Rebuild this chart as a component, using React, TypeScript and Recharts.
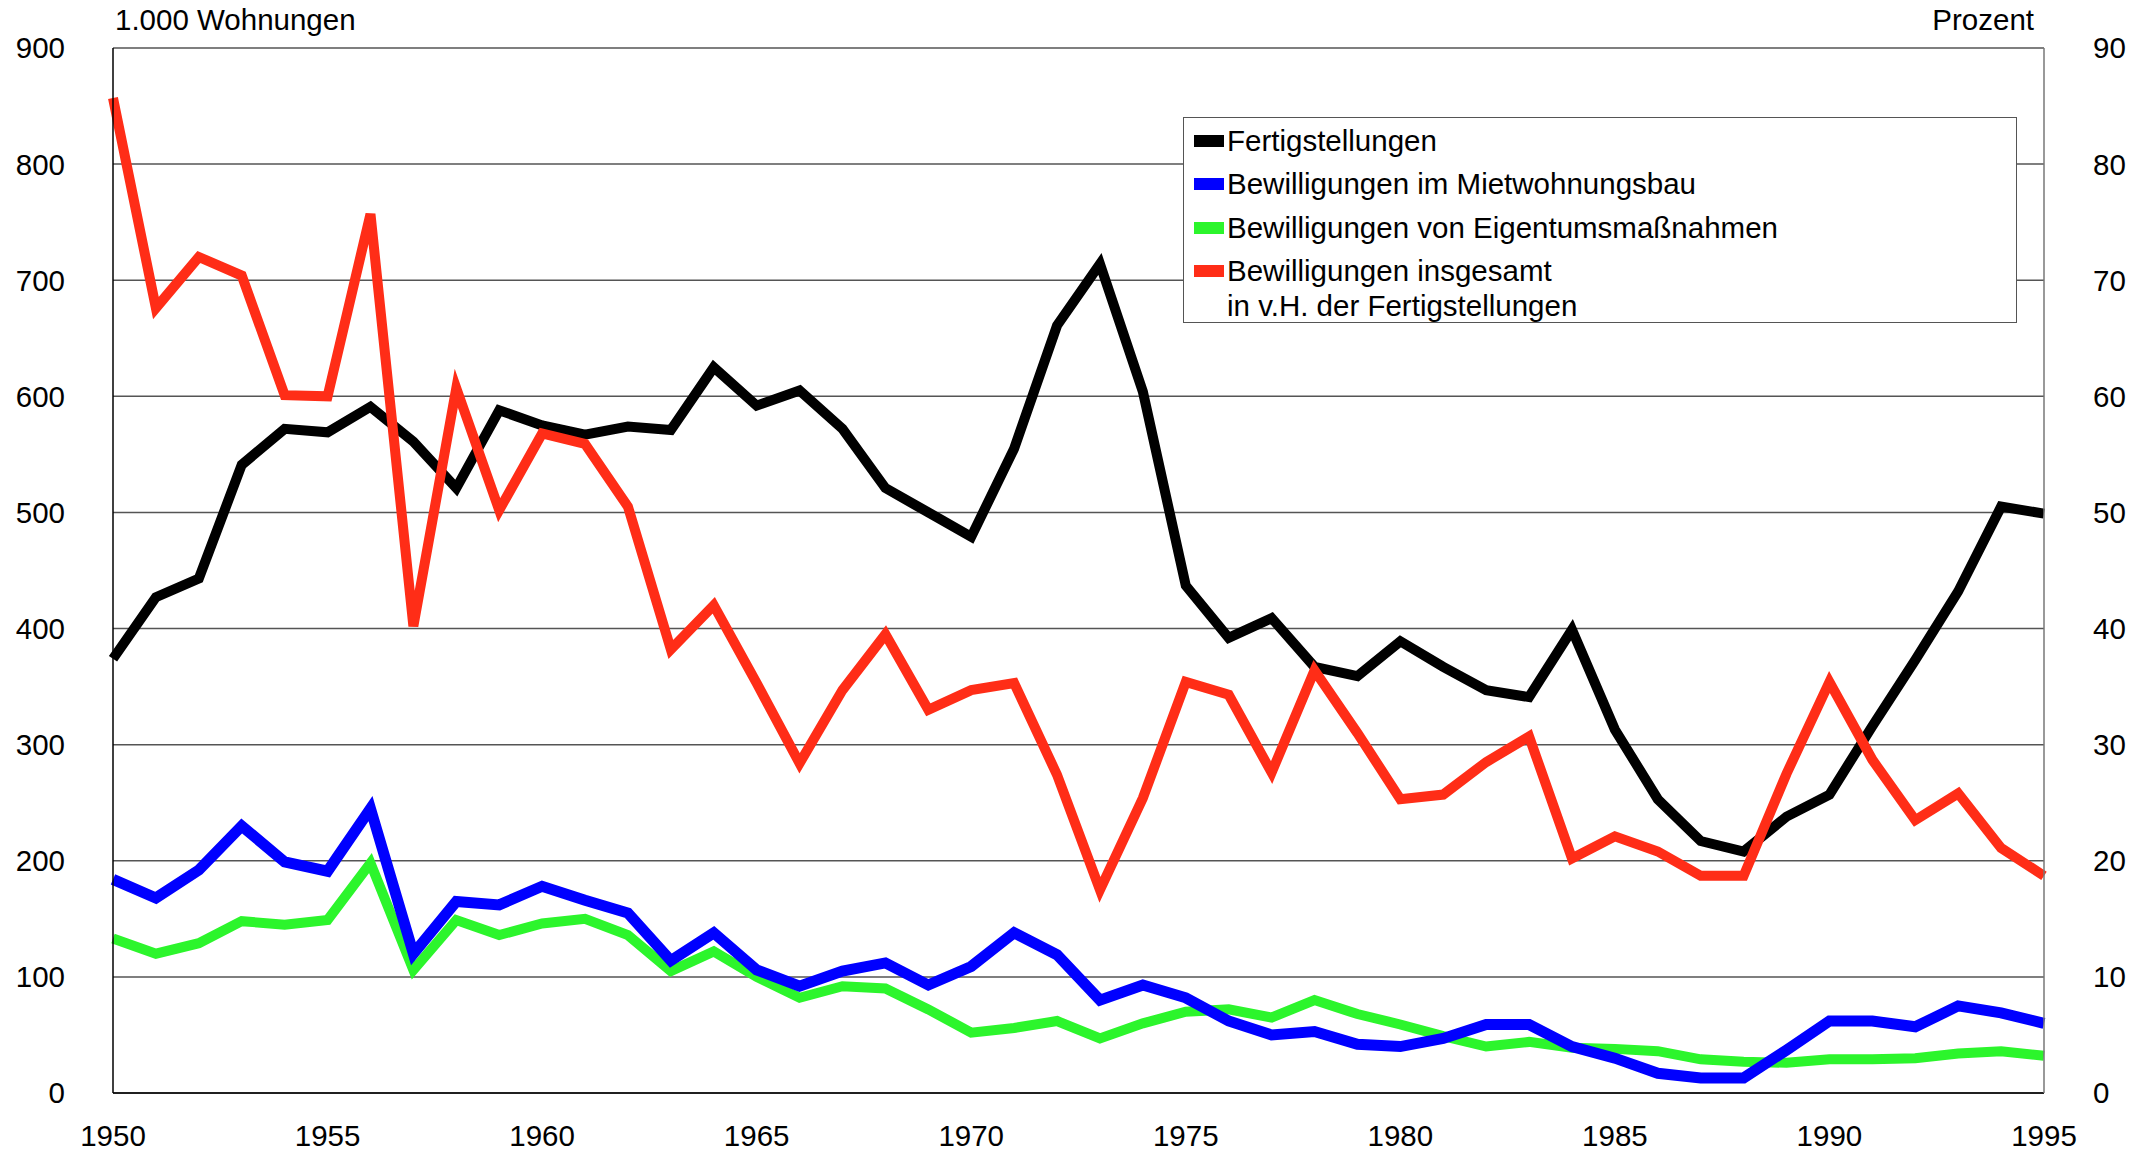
import React from 'react';
import { LineChart, Line, XAxis, YAxis, CartesianGrid, Legend } from 'recharts';

const years = [
  1950, 1951, 1952, 1953, 1954, 1955, 1956, 1957, 1958, 1959,
  1960, 1961, 1962, 1963, 1964, 1965, 1966, 1967, 1968, 1969,
  1970, 1971, 1972, 1973, 1974, 1975, 1976, 1977, 1978, 1979,
  1980, 1981, 1982, 1983, 1984, 1985, 1986, 1987, 1988, 1989,
  1990, 1991, 1992, 1993, 1994, 1995,
];

// 1.000 Wohnungen
const fertigstellungen = [
  374, 427, 443, 541, 572, 569, 591, 561, 521, 588,
  575, 567, 574, 571, 625, 592, 605, 572, 521, 500,
  479, 555, 661, 714, 604, 437, 392, 409, 367, 359,
  389, 367, 347, 341, 399, 313, 253, 217, 208, 238,
  257, 316, 373, 432, 505, 499,
];

const mietwohnungsbau = [
  184, 168, 192, 230, 199, 191, 245, 120, 165, 162,
  178, 166, 155, 114, 138, 106, 92, 105, 112, 93,
  109, 138, 119, 80, 93, 82, 62, 50, 53, 42,
  40, 47, 59, 59, 40, 30, 17, 13, 13, 37,
  62, 62, 57, 75, 69, 60,
];

const eigentum = [
  133, 120, 129, 148, 145, 149, 198, 106, 149, 136,
  146, 150, 136, 105, 122, 100, 82, 92, 90, 72,
  52, 56, 62, 47, 60, 70, 72, 65, 80, 68,
  59, 49, 40, 44, 39, 38, 36, 29, 27, 26,
  29, 29, 30, 34, 36, 32,
];

// Prozent
const quote = [
  85.7, 67.6, 72.0, 70.4, 60.1, 60.0, 75.7, 40.2, 60.7, 50.2,
  56.8, 55.9, 50.5, 38.2, 42.0, 35.3, 28.4, 34.7, 39.5, 33.0,
  34.7, 35.3, 27.4, 17.5, 25.4, 35.4, 34.3, 27.6, 36.4, 31.0,
  25.3, 25.7, 28.5, 30.7, 20.2, 22.1, 20.8, 18.7, 18.7, 27.5,
  35.4, 28.7, 23.5, 25.8, 21.1, 18.7,
];

const xTicks = [1950, 1955, 1960, 1965, 1970, 1975, 1980, 1985, 1990, 1995];
const leftTicks = [0, 100, 200, 300, 400, 500, 600, 700, 800, 900];
const rightTicks = [0, 10, 20, 30, 40, 50, 60, 70, 80, 90];

const data = years.map((year, i) => ({
  year,
  fertig: fertigstellungen[i],
  miet: mietwohnungsbau[i],
  eigen: eigentum[i],
  quote: quote[i],
}));

const FONT = '"Liberation Sans", Arial, sans-serif';
const FS = 29.5;
const BLACK = '#000000';
const BLUE = '#0000ff';
const GREEN = '#2cf52c';
const RED = '#ff2d17';

const legendRows = [
  { color: BLACK, lines: ['Fertigstellungen'], center: 23 },
  { color: BLUE, lines: ['Bewilligungen im Mietwohnungsbau'], center: 66 },
  { color: GREEN, lines: ['Bewilligungen von Eigentumsmaßnahmen'], center: 110 },
  { color: RED, lines: ['Bewilligungen insgesamt', 'in v.H. der Fertigstellungen'], center: 153 },
];

const renderLegend = () => (
  <div
    style={{
      position: 'relative',
      width: 834,
      height: 206,
      boxSizing: 'border-box',
      border: '1.5px solid #555',
      background: '#fff',
      fontFamily: FONT,
      fontSize: FS,
      color: '#000',
    }}
  >
    {legendRows.map((row) => (
      <div key={row.lines[0]}>
        <div
          style={{
            position: 'absolute',
            left: 10,
            top: row.center - 6,
            width: 30,
            height: 12,
            background: row.color,
          }}
        />
        {row.lines.map((txt, j) => (
          <div
            key={txt}
            style={{
              position: 'absolute',
              left: 43,
              top: row.center - 18 + j * 35,
              lineHeight: '36px',
              whiteSpace: 'nowrap',
            }}
          >
            {txt}
          </div>
        ))}
      </div>
    ))}
  </div>
);

const tickStyle = { fontFamily: FONT, fontSize: FS, fill: '#000' };

export default function App() {
  return (
    <div style={{ position: 'absolute', left: 0, top: 0, width: 2137, height: 1155, background: '#fff', fontFamily: FONT }}>
      <div style={{ position: 'absolute', left: 115, top: 1, fontSize: FS, lineHeight: '38px' }}>1.000 Wohnungen</div>
      <div style={{ position: 'absolute', right: 2137 - 2034, top: 1, fontSize: FS, lineHeight: '38px' }}>Prozent</div>
      <LineChart width={2137} height={1155} data={data} margin={{ top: 48, right: 0, bottom: 0, left: 0 }}>
        <CartesianGrid yAxisId="left" vertical={false} stroke="#555" strokeWidth={1.5} />
        <XAxis
          dataKey="year"
          type="number"
          domain={[1950, 1995]}
          ticks={xTicks}
          tickLine={false}
          tickSize={0}
          tickMargin={32}
          height={62}
          axisLine={{ stroke: '#000', strokeWidth: 1.5 }}
          tick={tickStyle}
        />
        <YAxis
          yAxisId="left"
          domain={[0, 900]}
          ticks={leftTicks}
          width={113}
          tickLine={false}
          tickSize={0}
          tickMargin={48}
          axisLine={{ stroke: '#000', strokeWidth: 1.5 }}
          tick={tickStyle}
        />
        <YAxis
          yAxisId="right"
          orientation="right"
          domain={[0, 90]}
          ticks={rightTicks}
          width={93}
          tickLine={false}
          tickSize={0}
          tickMargin={49}
          axisLine={{ stroke: '#777', strokeWidth: 1.5 }}
          tick={tickStyle}
        />
        <Legend
          layout="vertical"
          align="center"
          verticalAlign="middle"
          content={renderLegend}
          wrapperStyle={{ left: 1183, top: 117, width: 834, height: 206 }}
        />
        <Line yAxisId="left" dataKey="fertig" name="Fertigstellungen" stroke={BLACK} strokeWidth={10} dot={false} activeDot={false} isAnimationActive={false} />
        <Line yAxisId="left" dataKey="eigen" name="Bewilligungen von Eigentumsmaßnahmen" stroke={GREEN} strokeWidth={10} dot={false} activeDot={false} isAnimationActive={false} />
        <Line yAxisId="left" dataKey="miet" name="Bewilligungen im Mietwohnungsbau" stroke={BLUE} strokeWidth={11} dot={false} activeDot={false} isAnimationActive={false} />
        <Line yAxisId="right" dataKey="quote" name="Bewilligungen insgesamt in v.H. der Fertigstellungen" stroke={RED} strokeWidth={10} dot={false} activeDot={false} isAnimationActive={false} />
      </LineChart>
    </div>
  );
}
